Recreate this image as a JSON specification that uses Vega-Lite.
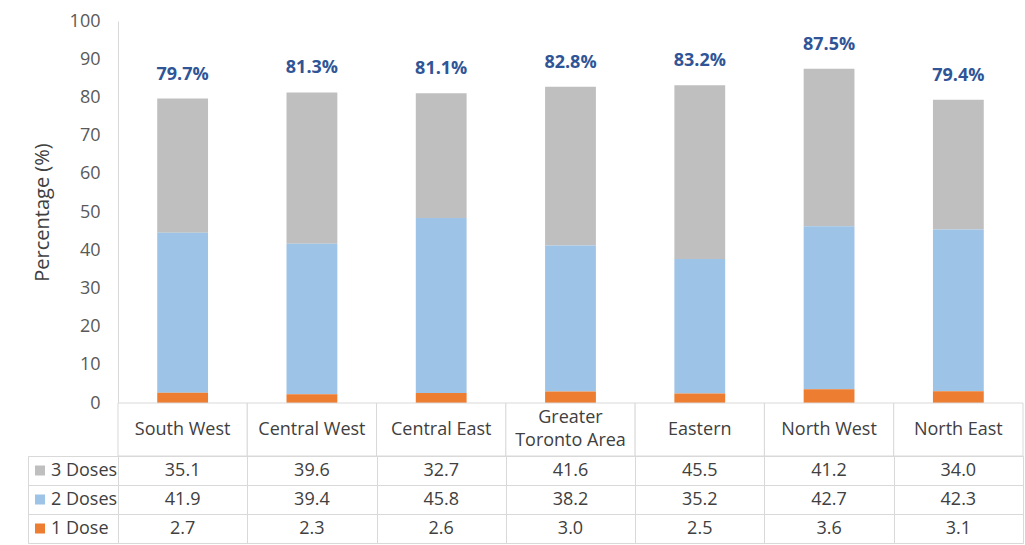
{
  "$schema": "https://vega.github.io/schema/vega-lite/v6.json",
  "padding": {"left": 27, "top": 12, "right": 0, "bottom": 0},
  "background": "white",
  "spacing": 0,
  "bounds": "flush",
  "config": {"view": {"stroke": null}, "font": "Open Sans", "concat": {"spacing": 0}},
  "datasets": {
    "doses": [
      {"region": "South West", "dose": "3 Doses", "value": 35.1},
      {"region": "Central West", "dose": "3 Doses", "value": 39.6},
      {"region": "Central East", "dose": "3 Doses", "value": 32.7},
      {"region": "Greater Toronto Area", "dose": "3 Doses", "value": 41.6},
      {"region": "Eastern", "dose": "3 Doses", "value": 45.5},
      {"region": "North West", "dose": "3 Doses", "value": 41.2},
      {"region": "North East", "dose": "3 Doses", "value": 34.0},
      {"region": "South West", "dose": "2 Doses", "value": 41.9},
      {"region": "Central West", "dose": "2 Doses", "value": 39.4},
      {"region": "Central East", "dose": "2 Doses", "value": 45.8},
      {"region": "Greater Toronto Area", "dose": "2 Doses", "value": 38.2},
      {"region": "Eastern", "dose": "2 Doses", "value": 35.2},
      {"region": "North West", "dose": "2 Doses", "value": 42.7},
      {"region": "North East", "dose": "2 Doses", "value": 42.3},
      {"region": "South West", "dose": "1 Dose", "value": 2.7},
      {"region": "Central West", "dose": "1 Dose", "value": 2.3},
      {"region": "Central East", "dose": "1 Dose", "value": 2.6},
      {"region": "Greater Toronto Area", "dose": "1 Dose", "value": 3.0},
      {"region": "Eastern", "dose": "1 Dose", "value": 2.5},
      {"region": "North West", "dose": "1 Dose", "value": 3.6},
      {"region": "North East", "dose": "1 Dose", "value": 3.1}
    ],
    "regions": [
      {"region": "South West", "label": "South West"},
      {"region": "Central West", "label": "Central West"},
      {"region": "Central East", "label": "Central East"},
      {"region": "Greater Toronto Area", "label": "Greater\nToronto Area"},
      {"region": "Eastern", "label": "Eastern"},
      {"region": "North West", "label": "North West"},
      {"region": "North East", "label": "North East"}
    ]
  },
  "resolve": {"scale": {"x": "independent", "y": "independent"}},
  "vconcat": [
    {
      "width": 995,
      "height": 382,
      "data": {"name": "doses"},
      "layer": [
        {
          "mark": {"type": "bar", "width": {"band": 0.393}},
          "encoding": {
            "x": {"field": "region", "type": "nominal", "axis": null, "sort": null,
                  "scale": {"domain": ["South West", "Central West", "Central East", "Greater Toronto Area", "Eastern", "North West", "North East"], "paddingInner": 0, "paddingOuter": 0.348, "align": 1}},
            "y": {"field": "value", "type": "quantitative", "stack": "zero",
                  "scale": {"domain": [0, 100], "nice": false},
                  "axis": {"title": "Percentage (%)", "values": [0, 10, 20, 30, 40, 50, 60, 70, 80, 90, 100], "ticks": false, "grid": false, "domainColor": "#d9d9d9", "labelColor": "#595959", "labelFontSize": 18, "labelPadding": 18, "titleFontSize": 20, "titleFontWeight": "normal", "titleColor": "#404040", "titlePadding": 17, "offset": -90}},
            "color": {"field": "dose", "type": "nominal", "legend": null,
                      "scale": {"domain": ["3 Doses", "2 Doses", "1 Dose"], "range": ["#bfbfbf", "#9dc3e6", "#ed7d31"]}},
            "order": {"field": "dose", "type": "ordinal", "sort": "ascending"}
          }
        },
        {
          "transform": [
            {"aggregate": [{"op": "sum", "field": "value", "as": "total"}], "groupby": ["region"]},
            {"calculate": "format(datum.total, '.1f') + '%'", "as": "label"}
          ],
          "mark": {"type": "text", "dy": -24, "fontSize": 18, "fontWeight": "bold", "color": "#2f5597"},
          "encoding": {
            "x": {"field": "region", "type": "nominal", "axis": null, "sort": null,
                  "scale": {"domain": ["South West", "Central West", "Central East", "Greater Toronto Area", "Eastern", "North West", "North East"], "paddingInner": 0, "paddingOuter": 0.348, "align": 1}},
            "y": {"field": "total", "type": "quantitative",
                  "scale": {"domain": [0, 100], "nice": false},
                  "axis": {"title": "Percentage (%)", "values": [0, 10, 20, 30, 40, 50, 60, 70, 80, 90, 100], "ticks": false, "grid": false, "domainColor": "#d9d9d9", "labelColor": "#595959", "labelFontSize": 18, "labelPadding": 18, "titleFontSize": 20, "titleFontWeight": "normal", "titleColor": "#404040", "titlePadding": 17, "offset": -90}},
            "text": {"field": "label"}
          }
        }
      ]
    },
    {
      "width": 995,
      "height": 53,
      "data": {"name": "regions"},
      "layer": [
        {
          "mark": {"type": "rect", "fill": "white", "stroke": "#d9d9d9", "strokeWidth": 1},
          "encoding": {
            "x": {"field": "region", "type": "nominal", "axis": null, "sort": null,
                  "scale": {"domain": ["South West", "Central West", "Central East", "Greater Toronto Area", "Eastern", "North West", "North East"], "paddingInner": 0, "paddingOuter": 0.348, "align": 1}}
          }
        },
        {
          "transform": [{"filter": "indexof(datum.label, '\\n') < 0"}],
          "mark": {"type": "text", "fontSize": 18, "color": "#404040"},
          "encoding": {
            "x": {"field": "region", "type": "nominal", "axis": null, "sort": null,
                  "scale": {"domain": ["South West", "Central West", "Central East", "Greater Toronto Area", "Eastern", "North West", "North East"], "paddingInner": 0, "paddingOuter": 0.348, "align": 1}},
            "text": {"field": "label"}
          }
        },
        {
          "transform": [{"filter": "indexof(datum.label, '\\n') >= 0"}],
          "mark": {"type": "text", "fontSize": 18, "color": "#404040", "lineBreak": "\n", "lineHeight": 23, "dy": -11.5},
          "encoding": {
            "x": {"field": "region", "type": "nominal", "axis": null, "sort": null,
                  "scale": {"domain": ["South West", "Central West", "Central East", "Greater Toronto Area", "Eastern", "North West", "North East"], "paddingInner": 0, "paddingOuter": 0.348, "align": 1}},
            "text": {"field": "label"}
          }
        }
      ]
    },
    {
      "width": 995,
      "height": 87,
      "data": {"name": "doses"},
      "view": {"stroke": "#d9d9d9"},
      "encoding": {
        "y": {"field": "dose", "type": "nominal",
              "scale": {"domain": ["3 Doses", "2 Doses", "1 Dose"], "paddingInner": 0, "paddingOuter": 0},
              "axis": {"grid": true, "gridColor": "#d9d9d9", "tickBand": "extent", "labels": false, "ticks": false, "domain": false, "title": null}}
      },
      "layer": [
        {
          "mark": {"type": "text", "fontSize": 18, "color": "#404040"},
          "encoding": {
            "x": {"field": "region", "type": "nominal", "sort": null,
                  "scale": {"domain": ["South West", "Central West", "Central East", "Greater Toronto Area", "Eastern", "North West", "North East"], "paddingInner": 0, "paddingOuter": 0.348, "align": 1},
                  "axis": {"grid": true, "gridColor": "#d9d9d9", "tickBand": "extent", "labels": false, "ticks": false, "domain": false, "title": null}},
            "text": {"field": "value", "type": "quantitative", "format": ".1f"}
          }
        },
        {
          "transform": [{"filter": "datum.region === 'South West'"}],
          "mark": {"type": "square", "size": 100, "opacity": 1, "filled": true},
          "encoding": {
            "x": {"datum": "South West", "type": "nominal", "bandPosition": -0.603,
                  "scale": {"domain": ["South West", "Central West", "Central East", "Greater Toronto Area", "Eastern", "North West", "North East"], "paddingInner": 0, "paddingOuter": 0.348, "align": 1},
                  "axis": {"grid": true, "gridColor": "#d9d9d9", "tickBand": "extent", "labels": false, "ticks": false, "domain": false, "title": null}},
            "color": {"field": "dose", "type": "nominal", "legend": null,
                      "scale": {"domain": ["3 Doses", "2 Doses", "1 Dose"], "range": ["#bfbfbf", "#9dc3e6", "#ed7d31"]}}
          }
        },
        {
          "transform": [{"filter": "datum.region === 'South West'"}],
          "mark": {"type": "text", "fontSize": 18, "color": "#404040", "align": "left"},
          "encoding": {
            "x": {"datum": "South West", "type": "nominal", "bandPosition": -0.518,
                  "scale": {"domain": ["South West", "Central West", "Central East", "Greater Toronto Area", "Eastern", "North West", "North East"], "paddingInner": 0, "paddingOuter": 0.348, "align": 1},
                  "axis": {"grid": true, "gridColor": "#d9d9d9", "tickBand": "extent", "labels": false, "ticks": false, "domain": false, "title": null}},
            "text": {"field": "dose"}
          }
        }
      ]
    }
  ]
}
